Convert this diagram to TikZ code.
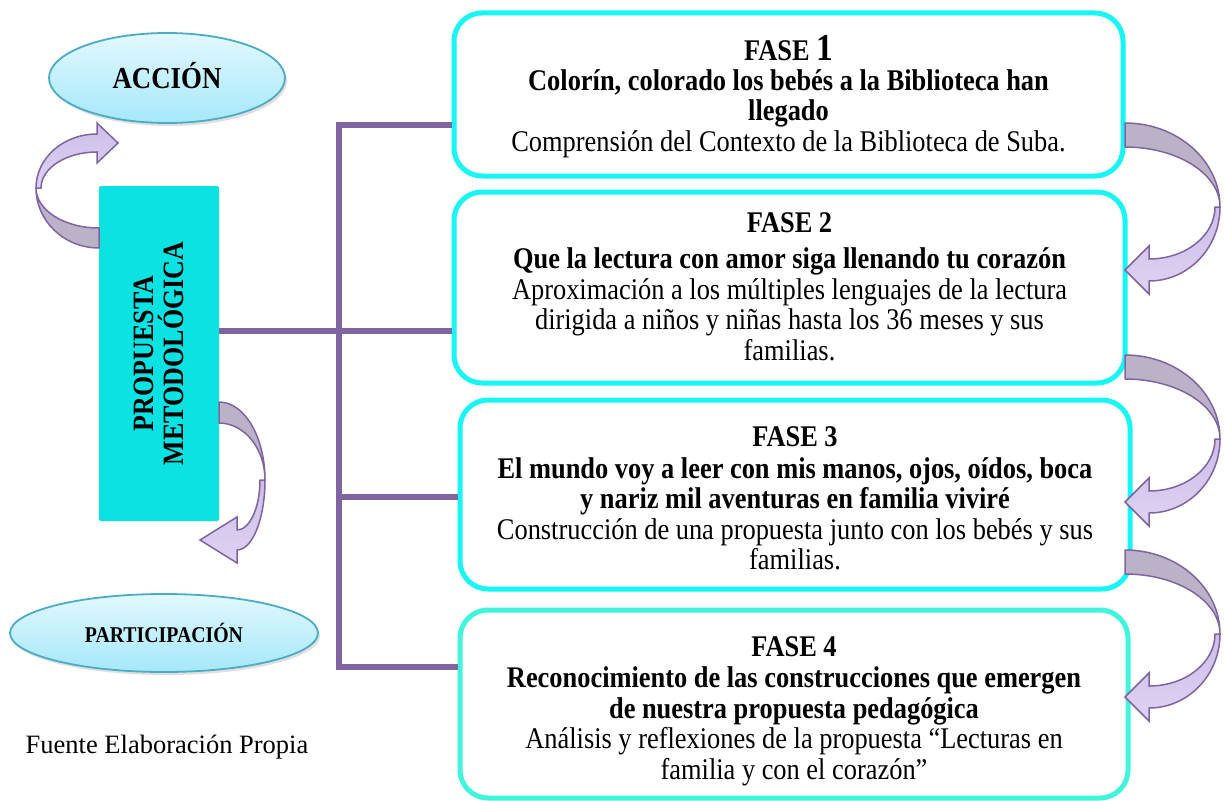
\documentclass[tikz,border=0pt]{standalone}
\usepackage{fontspec}
\setmainfont{Liberation Serif}[FakeStretch=0.88]
\newfontfamily\plainserif{Liberation Serif}
\usetikzlibrary{shapes.geometric,shadows}
\definecolor{boxcyan}{RGB}{23,245,245}
\definecolor{boxaqua}{RGB}{64,245,220}
\definecolor{propfill}{RGB}{11,227,227}
\definecolor{connpurple}{RGB}{128,100,162}
\definecolor{ovalborder}{RGB}{75,172,198}
\definecolor{ovaltop}{RGB}{226,248,254}
\definecolor{ovalbot}{RGB}{165,232,250}
\definecolor{ardark}{RGB}{187,178,200}
\definecolor{arlighta}{RGB}{206,190,232}
\definecolor{arlightb}{RGB}{222,210,242}
\definecolor{arline}{RGB}{128,100,162}
\tikzset{
  fasebox/.style={draw=boxcyan, line width=5pt, rounded corners=28pt, fill=white, inner sep=0pt},
  fasetext/.style={align=center, inner sep=0pt, font=\fontsize{30}{30.5}\selectfont},
  conn/.style={draw=connpurple, line width=6pt},
  ovalnode/.style={ellipse, draw=ovalborder, line width=1.8pt, top color=ovaltop, bottom color=ovalbot,
    inner sep=0pt, drop shadow={opacity=0.25, shadow xshift=2pt, shadow yshift=-3pt}},
  rdark/.style={fill=ardark, draw=arline, line width=1.5pt, line join=round},
  rlight/.style={top color=arlighta, bottom color=arlightb, draw=arline, line width=1.5pt, line join=miter},
}
\newcommand\ribarrow[8]{%
  \pgfmathsetmacro\raIY{#2-#3}%
  \pgfmathsetmacro\raLX{#1-#6}%
  \pgfmathsetmacro\raLXi{#1-#6-5}%
  \pgfmathsetmacro\raOY{#4+#8-#2}%
  \pgfmathsetmacro\raIYl{#4-#8-#2}%
  \filldraw[rdark] (0,0) arc[start angle=90,end angle=0,x radius=#1pt,y radius=#2pt]
     arc[start angle=0,end angle=90,x radius=#1pt,y radius=\raIY pt] -- cycle;
  \filldraw[rlight] (#1,-#2) arc[start angle=0,end angle=-90,x radius=\raLX pt,y radius=\raOY pt]
     -- (#6,-#4-#7) -- (#5,-#4) -- (#6,-#4+#7) -- (#6,-#4+#8)
     arc[start angle=-90,end angle=0,x radius=\raLXi pt,y radius=\raIYl pt] -- cycle;
}
\begin{document}
\begin{tikzpicture}[x=1pt,y=1pt]
\useasboundingbox (0,0) rectangle (1225,-800);
\fill[white] (0,0) rectangle (1225,-800);

% ovals
\node[ovalnode, minimum width=236pt, minimum height=90pt] (accion) at (167,-78)
  {\raisebox{5pt}{\fontsize{30.5}{30}\selectfont\bfseries ACCIÓN}};
\node[ovalnode, minimum width=308pt, minimum height=78pt] (partic) at (164,-633)
  {\fontsize{22.5}{24}\selectfont\bfseries PARTICIPACIÓN};

% central box
\node[fill=propfill, rounded corners=2pt, minimum width=120pt, minimum height=335pt, inner sep=0pt] (prop) at (159,-353.5) {};
\node[rotate=90, align=center, inner sep=0pt, font=\bfseries\fontsize{29.5}{30}\selectfont] (proptext) at (prop.center) {PROPUESTA\\METODOLÓGICA};

% phase boxes
\node[fasebox, minimum width=669pt, minimum height=163pt] (f1) at (788.5,-94.5) {};
\node[fasebox, minimum width=671pt, minimum height=191pt] (f2) at (789.5,-287.5) {};
\node[fasebox, minimum width=670pt, minimum height=189pt] (f3) at (795,-494.5) {};
\node[fasebox, draw=boxaqua, minimum width=668pt, minimum height=188pt] (f4) at (794,-704) {};

\node[fasetext] (t1) at ([yshift=-2pt]f1.center) {\textbf{FASE {\fontsize{38}{30}\selectfont 1}}\\[-1pt]
  \textbf{Colorín, colorado los bebés a la Biblioteca han}\\
  \textbf{llegado}\\
  Comprensión del Contexto de la Biblioteca de Suba.};
\node[fasetext] (t2) at ([yshift=1pt]f2.center) {\textbf{FASE 2}\\[6pt]
  \textbf{Que la lectura con amor siga llenando tu corazón}\\
  Aproximación a los múltiples lenguajes de la lectura\\
  dirigida a niños y niñas hasta los 36 meses y sus\\
  familias.};
\node[fasetext] (t3) at ([yshift=-4pt]f3.center) {\textbf{FASE 3}\\[1pt]
  \textbf{El mundo voy a leer con mis manos, ojos, oídos, boca}\\
  \textbf{y nariz mil aventuras en familia viviré}\\
  Construcción de una propuesta junto con los bebés y sus\\
  familias.};
\node[fasetext] (t4) at ([yshift=-7pt]f4.center) {\textbf{FASE 4}\\[1pt]
  \textbf{Reconocimiento de las construcciones que emergen}\\
  \textbf{de nuestra propuesta pedagógica}\\
  Análisis y reflexiones de la propuesta “Lecturas en\\
  familia y con el corazón”};

% connectors
\coordinate (s1) at (339,-125);
\coordinate (j2) at (339,-331);
\coordinate (j3) at (339,-497);
\coordinate (s4) at (339,-667);
\draw[conn, line cap=rect] (s1) -- (s4);
\draw[conn] (s1) -- (s1 -| f1.west);
\draw[conn] (j2 -| prop.east) -- (j2 -| f2.west);
\draw[conn] (j3) -- (j3 -| f3.west);
\draw[conn] (s4) -- (s4 -| f4.west);

% curved arrows right
\begin{scope}[shift={(1125,-123)}] \ribarrow{95}{84}{24}{147}{0}{24}{24}{11} \end{scope}
\begin{scope}[shift={(1125,-355)}] \ribarrow{95}{84}{24}{147}{0}{24}{24}{11} \end{scope}
\begin{scope}[shift={(1125,-550)}] \ribarrow{95}{84}{24}{147}{0}{24}{24}{11} \end{scope}

% curved arrows left
\begin{scope}[shift={(99,-248)}, rotate=180] \ribarrow{63}{60}{20}{105}{-19}{2}{20}{9} \end{scope}
\begin{scope}[shift={(219,-402)}] \ribarrow{46}{78}{21}{138}{-19}{18}{23}{10} \end{scope}

\node[inner sep=0pt, font=\plainserif\fontsize{26.5}{30}\selectfont] (fuente) at (167,-747) {Fuente Elaboración Propia};
\end{tikzpicture}
\end{document}
